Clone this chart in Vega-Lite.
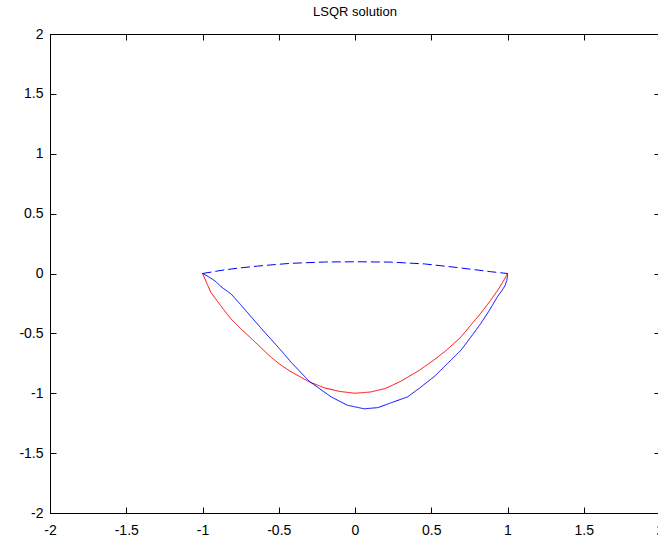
{
  "$schema": "https://vega.github.io/schema/vega-lite/v6.json",
  "width": 610,
  "height": 479,
  "autosize": {"type": "none"},
  "padding": {"left": 50, "top": 34, "right": 0, "bottom": 29},
  "background": "white",
  "title": {"text": "LSQR solution", "fontSize": 13, "font": "Liberation Sans", "fontWeight": "normal", "color": "black", "offset": 8, "anchor": "middle"},
  "config": {
    "view": {"stroke": "black", "strokeWidth": 1},
    "axis": {"grid": false, "domainColor": "black", "tickColor": "black", "tickSize": -6, "labelFont": "Liberation Sans", "labelFontSize": 14, "labelColor": "black", "labelOverlap": false, "labelBound": false, "labelFlush": false, "title": null, "domainWidth": 1, "tickWidth": 1, "labelExpr": "datum.value + ''"}
  },
  "data": {"values": [
    {"s": "exact", "i": 0, "x": -1.0, "y": 0.0},
    {"s": "exact", "i": 1, "x": -0.944, "y": -0.16},
    {"s": "exact", "i": 2, "x": -0.88, "y": -0.27},
    {"s": "exact", "i": 3, "x": -0.813, "y": -0.38},
    {"s": "exact", "i": 4, "x": -0.75, "y": -0.46},
    {"s": "exact", "i": 5, "x": -0.682, "y": -0.54},
    {"s": "exact", "i": 6, "x": -0.6, "y": -0.64},
    {"s": "exact", "i": 7, "x": -0.55, "y": -0.7},
    {"s": "exact", "i": 8, "x": -0.48, "y": -0.77},
    {"s": "exact", "i": 9, "x": -0.42, "y": -0.82},
    {"s": "exact", "i": 10, "x": -0.3, "y": -0.905},
    {"s": "exact", "i": 11, "x": -0.2, "y": -0.955},
    {"s": "exact", "i": 12, "x": -0.1, "y": -0.985},
    {"s": "exact", "i": 13, "x": 0.0, "y": -1.0},
    {"s": "exact", "i": 14, "x": 0.1, "y": -0.99},
    {"s": "exact", "i": 15, "x": 0.2, "y": -0.96},
    {"s": "exact", "i": 16, "x": 0.3, "y": -0.9},
    {"s": "exact", "i": 17, "x": 0.42, "y": -0.81},
    {"s": "exact", "i": 18, "x": 0.52, "y": -0.72},
    {"s": "exact", "i": 19, "x": 0.6, "y": -0.64},
    {"s": "exact", "i": 20, "x": 0.695, "y": -0.53},
    {"s": "exact", "i": 21, "x": 0.76, "y": -0.43},
    {"s": "exact", "i": 22, "x": 0.826, "y": -0.33},
    {"s": "exact", "i": 23, "x": 0.88, "y": -0.24},
    {"s": "exact", "i": 24, "x": 0.936, "y": -0.14},
    {"s": "exact", "i": 25, "x": 0.97, "y": -0.07},
    {"s": "exact", "i": 26, "x": 1.0, "y": 0.0},
    {"s": "lsqr", "i": 0, "x": -1.0, "y": 0.0},
    {"s": "lsqr", "i": 1, "x": -0.97, "y": -0.02},
    {"s": "lsqr", "i": 2, "x": -0.944, "y": -0.04},
    {"s": "lsqr", "i": 3, "x": -0.91, "y": -0.07},
    {"s": "lsqr", "i": 4, "x": -0.879, "y": -0.11},
    {"s": "lsqr", "i": 5, "x": -0.813, "y": -0.17},
    {"s": "lsqr", "i": 6, "x": -0.75, "y": -0.26},
    {"s": "lsqr", "i": 7, "x": -0.682, "y": -0.36},
    {"s": "lsqr", "i": 8, "x": -0.6, "y": -0.48},
    {"s": "lsqr", "i": 9, "x": -0.55, "y": -0.55},
    {"s": "lsqr", "i": 10, "x": -0.48, "y": -0.65},
    {"s": "lsqr", "i": 11, "x": -0.42, "y": -0.74},
    {"s": "lsqr", "i": 12, "x": -0.3, "y": -0.9},
    {"s": "lsqr", "i": 13, "x": -0.157, "y": -1.03},
    {"s": "lsqr", "i": 14, "x": -0.05, "y": -1.1},
    {"s": "lsqr", "i": 15, "x": 0.06, "y": -1.13},
    {"s": "lsqr", "i": 16, "x": 0.15, "y": -1.12},
    {"s": "lsqr", "i": 17, "x": 0.236, "y": -1.08},
    {"s": "lsqr", "i": 18, "x": 0.345, "y": -1.03},
    {"s": "lsqr", "i": 19, "x": 0.42, "y": -0.96},
    {"s": "lsqr", "i": 20, "x": 0.52, "y": -0.86},
    {"s": "lsqr", "i": 21, "x": 0.6, "y": -0.76},
    {"s": "lsqr", "i": 22, "x": 0.695, "y": -0.64},
    {"s": "lsqr", "i": 23, "x": 0.76, "y": -0.53},
    {"s": "lsqr", "i": 24, "x": 0.826, "y": -0.415},
    {"s": "lsqr", "i": 25, "x": 0.88, "y": -0.31},
    {"s": "lsqr", "i": 26, "x": 0.936, "y": -0.19},
    {"s": "lsqr", "i": 27, "x": 0.965, "y": -0.14},
    {"s": "lsqr", "i": 28, "x": 0.984, "y": -0.1},
    {"s": "lsqr", "i": 29, "x": 0.995, "y": -0.06},
    {"s": "lsqr", "i": 30, "x": 1.0, "y": -0.02},
    {"s": "lsqr", "i": 31, "x": 1.0, "y": 0.0},
    {"s": "top", "i": 0, "x": -1.0, "y": 0.0},
    {"s": "top", "i": 1, "x": -0.857, "y": 0.03},
    {"s": "top", "i": 2, "x": -0.75, "y": 0.047},
    {"s": "top", "i": 3, "x": -0.638, "y": 0.062},
    {"s": "top", "i": 4, "x": -0.52, "y": 0.075},
    {"s": "top", "i": 5, "x": -0.42, "y": 0.085},
    {"s": "top", "i": 6, "x": -0.2, "y": 0.096},
    {"s": "top", "i": 7, "x": 0.02, "y": 0.098},
    {"s": "top", "i": 8, "x": 0.236, "y": 0.095},
    {"s": "top", "i": 9, "x": 0.455, "y": 0.08},
    {"s": "top", "i": 10, "x": 0.67, "y": 0.05},
    {"s": "top", "i": 11, "x": 0.89, "y": 0.015},
    {"s": "top", "i": 12, "x": 1.0, "y": 0.0}
  ]},
  "encoding": {
    "x": {"field": "x", "type": "quantitative", "scale": {"domain": [-2, 2], "nice": false, "zero": false}},
    "y": {"field": "y", "type": "quantitative", "scale": {"domain": [-2, 2], "nice": false, "zero": false}}
  },
  "layer": [
    {
      "mark": {"type": "line", "strokeWidth": 1, "clip": true},
      "encoding": {
        "x": {"field": "x", "type": "quantitative", "axis": {"orient": "bottom", "values": [-2, -1.5, -1, -0.5, 0, 0.5, 1, 1.5, 2], "labelPadding": 16}},
        "y": {"field": "y", "type": "quantitative", "axis": {"orient": "left", "values": [-2, -1.5, -1, -0.5, 0, 0.5, 1, 1.5, 2], "labelPadding": 13}},
        "detail": {"field": "s"},
        "order": {"field": "i", "type": "quantitative"},
        "color": {"field": "s", "type": "nominal", "scale": {"domain": ["exact", "lsqr", "top"], "range": ["#ff0000", "#0000ff", "#0000ff"]}, "legend": null},
        "strokeDash": {"field": "s", "type": "nominal", "scale": {"domain": ["exact", "lsqr", "top"], "range": [[1, 0], [1, 0], [9, 4]]}, "legend": null}
      }
    },
    {
      "mark": {"type": "point", "opacity": 0},
      "encoding": {
        "x": {"field": "x", "type": "quantitative", "axis": {"orient": "top", "values": [-2, -1.5, -1, -0.5, 0, 0.5, 1, 1.5, 2], "labels": false}},
        "y": {"field": "y", "type": "quantitative", "axis": {"orient": "right", "values": [-2, -1.5, -1, -0.5, 0, 0.5, 1, 1.5, 2], "labels": false}}
      }
    }
  ],
  "resolve": {"axis": {"x": "independent", "y": "independent"}}
}
